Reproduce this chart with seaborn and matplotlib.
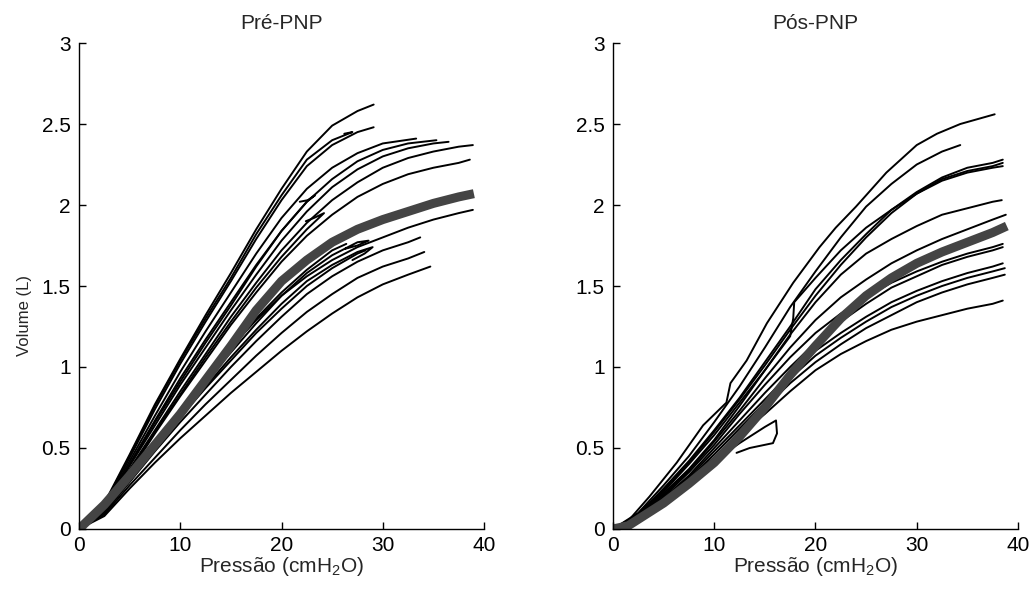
import pandas as pd
import seaborn as sns
import matplotlib.pyplot as plt

###########################
### CURVAS PRESSAO-VOLUME ###
###########################
G = [0, 2.5, 5, 7.5, 10, 12.5, 15, 17.5, 20, 22.5, 25, 27.5, 30, 32.5, 35, 37.5]

# Pre-PNP: (pressoes, volumes) de cada curva
pre_curves = [
    (G[:12] + [29.1], [0, 0.16, 0.46, 0.77, 1.05, 1.32, 1.58, 1.85, 2.10, 2.33, 2.49, 2.58, 2.62]),
    (G[:12] + [29.1], [0, 0.15, 0.44, 0.74, 1.02, 1.28, 1.53, 1.79, 2.03, 2.24, 2.37, 2.45, 2.48]),
    (G[:11] + [27.0, 26.2], [0, 0.15, 0.45, 0.76, 1.04, 1.30, 1.55, 1.82, 2.06, 2.28, 2.40, 2.45, 2.44]),
    (G[:13] + [33.3], [0, 0.14, 0.42, 0.70, 0.97, 1.22, 1.46, 1.70, 1.92, 2.10, 2.23, 2.32, 2.38, 2.41]),
    (G[:14] + [35.3], [0, 0.13, 0.40, 0.67, 0.93, 1.17, 1.40, 1.63, 1.84, 2.02, 2.16, 2.27, 2.34, 2.38, 2.40]),
    (G[:15] + [36.5], [0, 0.13, 0.39, 0.64, 0.89, 1.12, 1.35, 1.57, 1.78, 1.96, 2.11, 2.22, 2.30, 2.35, 2.38, 2.39]),
    (G + [38.9], [0, 0.12, 0.37, 0.61, 0.85, 1.08, 1.31, 1.52, 1.72, 1.89, 2.03, 2.14, 2.23, 2.29, 2.33, 2.36, 2.37]),
    (G + [38.6], [0, 0.12, 0.35, 0.59, 0.82, 1.04, 1.26, 1.46, 1.65, 1.81, 1.94, 2.05, 2.13, 2.19, 2.23, 2.26, 2.28]),
    (G[:10] + [24.2, 23.2, 22.4], [0, 0.12, 0.36, 0.60, 0.83, 1.06, 1.28, 1.49, 1.68, 1.85, 1.95, 1.92, 1.90]),
    (G[:10] + [23.3, 22.6, 21.8], [0, 0.13, 0.40, 0.66, 0.91, 1.15, 1.38, 1.62, 1.84, 2.02, 2.06, 2.03, 2.02]),
    (G + [38.9], [0, 0.11, 0.30, 0.52, 0.74, 0.94, 1.12, 1.29, 1.44, 1.56, 1.66, 1.74, 1.80, 1.86, 1.91, 1.95, 1.97]),
    (G[:12] + [29.0, 28.2, 27.0], [0, 0.11, 0.31, 0.51, 0.70, 0.88, 1.06, 1.23, 1.39, 1.53, 1.63, 1.71, 1.74, 1.70, 1.66]),
    (G[:11] + [26.4], [0, 0.12, 0.33, 0.54, 0.73, 0.93, 1.12, 1.30, 1.46, 1.60, 1.72, 1.76]),
    (G[:14] + [33.7], [0, 0.10, 0.29, 0.48, 0.66, 0.83, 1.00, 1.16, 1.31, 1.45, 1.56, 1.65, 1.72, 1.77, 1.80]),
    (G[:14] + [34.1], [0, 0.09, 0.27, 0.44, 0.61, 0.77, 0.92, 1.07, 1.21, 1.34, 1.45, 1.55, 1.62, 1.67, 1.71]),
    (G[:14] + [34.7], [0, 0.08, 0.25, 0.41, 0.56, 0.70, 0.84, 0.97, 1.10, 1.22, 1.33, 1.43, 1.51, 1.57, 1.62]),
    (G[:12] + [28.3], [0, 0.10, 0.30, 0.50, 0.69, 0.87, 1.04, 1.21, 1.36, 1.50, 1.61, 1.70, 1.72]),
    (G[:12] + [28.6, 27.5, 26.3], [0, 0.11, 0.32, 0.53, 0.72, 0.91, 1.09, 1.27, 1.44, 1.58, 1.69, 1.77, 1.78, 1.75, 1.73]),
]
pre_mean_p = G + [39.0]
pre_mean_v = [0, 0.15, 0.33, 0.52, 0.71, 0.92, 1.13, 1.35, 1.53, 1.66, 1.77, 1.85, 1.91, 1.96, 2.01, 2.05, 2.07]

# Pos-PNP
pos_curves = [
    ([0, 1.5, 3.6, 6.3, 8.9, 11.2, 11.6, 13.2, 15.2, 17.8, 20.4, 22.0, 24.0, 27.0, 30.0, 32.0, 34.3, 37.7],
     [0, 0.05, 0.20, 0.41, 0.64, 0.78, 0.90, 1.04, 1.27, 1.52, 1.74, 1.86, 1.99, 2.20, 2.37, 2.44, 2.50, 2.56]),
    (G[:14] + [34.3], [0, 0.10, 0.27, 0.45, 0.66, 0.88, 1.12, 1.37, 1.59, 1.80, 1.99, 2.13, 2.25, 2.33, 2.37]),
    (G + [38.5], [0, 0.09, 0.25, 0.42, 0.61, 0.81, 1.03, 1.25, 1.48, 1.66, 1.82, 1.97, 2.08, 2.17, 2.23, 2.26, 2.28]),
    (G + [38.5], [0, 0.09, 0.24, 0.41, 0.60, 0.80, 1.01, 1.23, 1.44, 1.63, 1.80, 1.95, 2.07, 2.16, 2.21, 2.24, 2.26]),
    ([0, 2.5, 5, 7.5, 10, 12.5, 15, 17.5, 17.8, 17.9, 20, 22.5, 25, 27.5, 30, 32.5, 35, 37.5, 38.5],
     [0, 0.08, 0.23, 0.40, 0.58, 0.78, 0.98, 1.19, 1.30, 1.40, 1.55, 1.72, 1.86, 1.97, 2.07, 2.15, 2.20, 2.23, 2.24]),
    (G + [38.4], [0, 0.08, 0.22, 0.37, 0.55, 0.76, 0.98, 1.20, 1.40, 1.57, 1.70, 1.79, 1.87, 1.94, 1.98, 2.02, 2.03]),
    (G + [38.8], [0, 0.08, 0.21, 0.36, 0.54, 0.73, 0.93, 1.12, 1.29, 1.43, 1.54, 1.64, 1.72, 1.79, 1.85, 1.91, 1.94]),
    (G + [38.5], [0, 0.07, 0.20, 0.35, 0.52, 0.71, 0.89, 1.06, 1.21, 1.33, 1.43, 1.52, 1.59, 1.65, 1.70, 1.74, 1.76]),
    (G + [38.5], [0, 0.07, 0.19, 0.33, 0.50, 0.67, 0.84, 1.00, 1.15, 1.28, 1.39, 1.49, 1.56, 1.63, 1.68, 1.72, 1.74]),
    (G + [38.5], [0, 0.06, 0.18, 0.32, 0.48, 0.64, 0.80, 0.96, 1.10, 1.21, 1.31, 1.40, 1.47, 1.53, 1.58, 1.62, 1.64]),
    (G + [38.7], [0, 0.06, 0.17, 0.31, 0.46, 0.62, 0.78, 0.93, 1.07, 1.18, 1.28, 1.37, 1.44, 1.50, 1.55, 1.59, 1.61]),
    (G + [38.7], [0, 0.05, 0.16, 0.29, 0.44, 0.60, 0.75, 0.90, 1.03, 1.14, 1.24, 1.32, 1.40, 1.46, 1.51, 1.55, 1.57]),
    (G + [38.5], [0, 0.06, 0.18, 0.31, 0.44, 0.58, 0.71, 0.85, 0.98, 1.08, 1.16, 1.23, 1.28, 1.32, 1.36, 1.39, 1.41]),
    ([0, 2.5, 5, 7.5, 10, 12.5, 15, 16.1, 16.2, 15.8, 13.5, 12.2],
     [0, 0.06, 0.17, 0.30, 0.42, 0.53, 0.63, 0.67, 0.59, 0.53, 0.50, 0.47]),
]
pos_mean_p = [0, 1.5, 3, 5, 7.5, 10, 12.5, 15, 17.5, 20, 22.5, 25, 27.5, 30, 32.5, 35, 37.5, 38.9]
pos_mean_v = [0, 0.02, 0.08, 0.16, 0.28, 0.41, 0.57, 0.75, 0.95, 1.13, 1.30, 1.44, 1.55, 1.64, 1.71, 1.77, 1.83, 1.87]

titles = ['Pré-PNP', 'Pós-PNP']


def to_df(curves):
    rows = []
    for i, (p, v) in enumerate(curves):
        for k in range(len(p)):
            rows.append({'curva': i, 'pressao': p[k], 'volume': v[k]})
    return pd.DataFrame(rows)


sns.set_style('ticks')
plt.rcParams['font.family'] = ['Liberation Sans', 'DejaVu Sans']
plt.rcParams['mathtext.fontset'] = 'custom'
plt.rcParams['mathtext.rm'] = 'Liberation Sans'
plt.rcParams['xtick.direction'] = 'in'
plt.rcParams['ytick.direction'] = 'in'

fig = plt.figure(figsize=(10.32, 5.9), dpi=100)
axes = [fig.add_axes([0.0766, 0.1034, 0.3924, 0.8237]),
        fig.add_axes([0.594, 0.1034, 0.3924, 0.8237])]

panels = [(pre_curves, pre_mean_p, pre_mean_v), (pos_curves, pos_mean_p, pos_mean_v)]
for ax, (curves, mp, mv), title in zip(axes, panels, titles):
    df = to_df(curves)
    sns.lineplot(data=df, x='pressao', y='volume', units='curva', estimator=None, sort=False,
                 color='black', lw=1.4, ax=ax, legend=False)
    mean_df = pd.DataFrame({'pressao': mp, 'volume': mv})
    sns.lineplot(data=mean_df, x='pressao', y='volume', estimator=None, sort=False,
                 color='#444444', lw=6.5, ax=ax, solid_capstyle='butt')
    ax.set_xlim(0, 40)
    ax.set_ylim(0, 3)
    ax.set_xticks([0, 10, 20, 30, 40])
    ax.set_yticks([0, 0.5, 1, 1.5, 2, 2.5, 3])
    ax.set_yticklabels(['0', '0.5', '1', '1.5', '2', '2.5', '3'])
    ax.tick_params(labelsize=15, length=5, width=1, color='black', labelcolor='black')
    ax.tick_params(axis='x', pad=5)
    ax.tick_params(axis='y', pad=6)
    ax.set_xlabel('Pressão (cmH$_2$O)', fontsize=15, labelpad=0)
    ax.set_ylabel('')
    ax.set_title(title, fontsize=15, pad=10)
    for s in ['top', 'right']:
        ax.spines[s].set_visible(False)
    for s in ['left', 'bottom']:
        ax.spines[s].set_color('black')
        ax.spines[s].set_linewidth(1)

axes[0].set_ylabel('Volume (L)', fontsize=12)
axes[0].yaxis.set_label_coords(-0.115, 0.44)

fig.savefig('out.png', dpi=100)
